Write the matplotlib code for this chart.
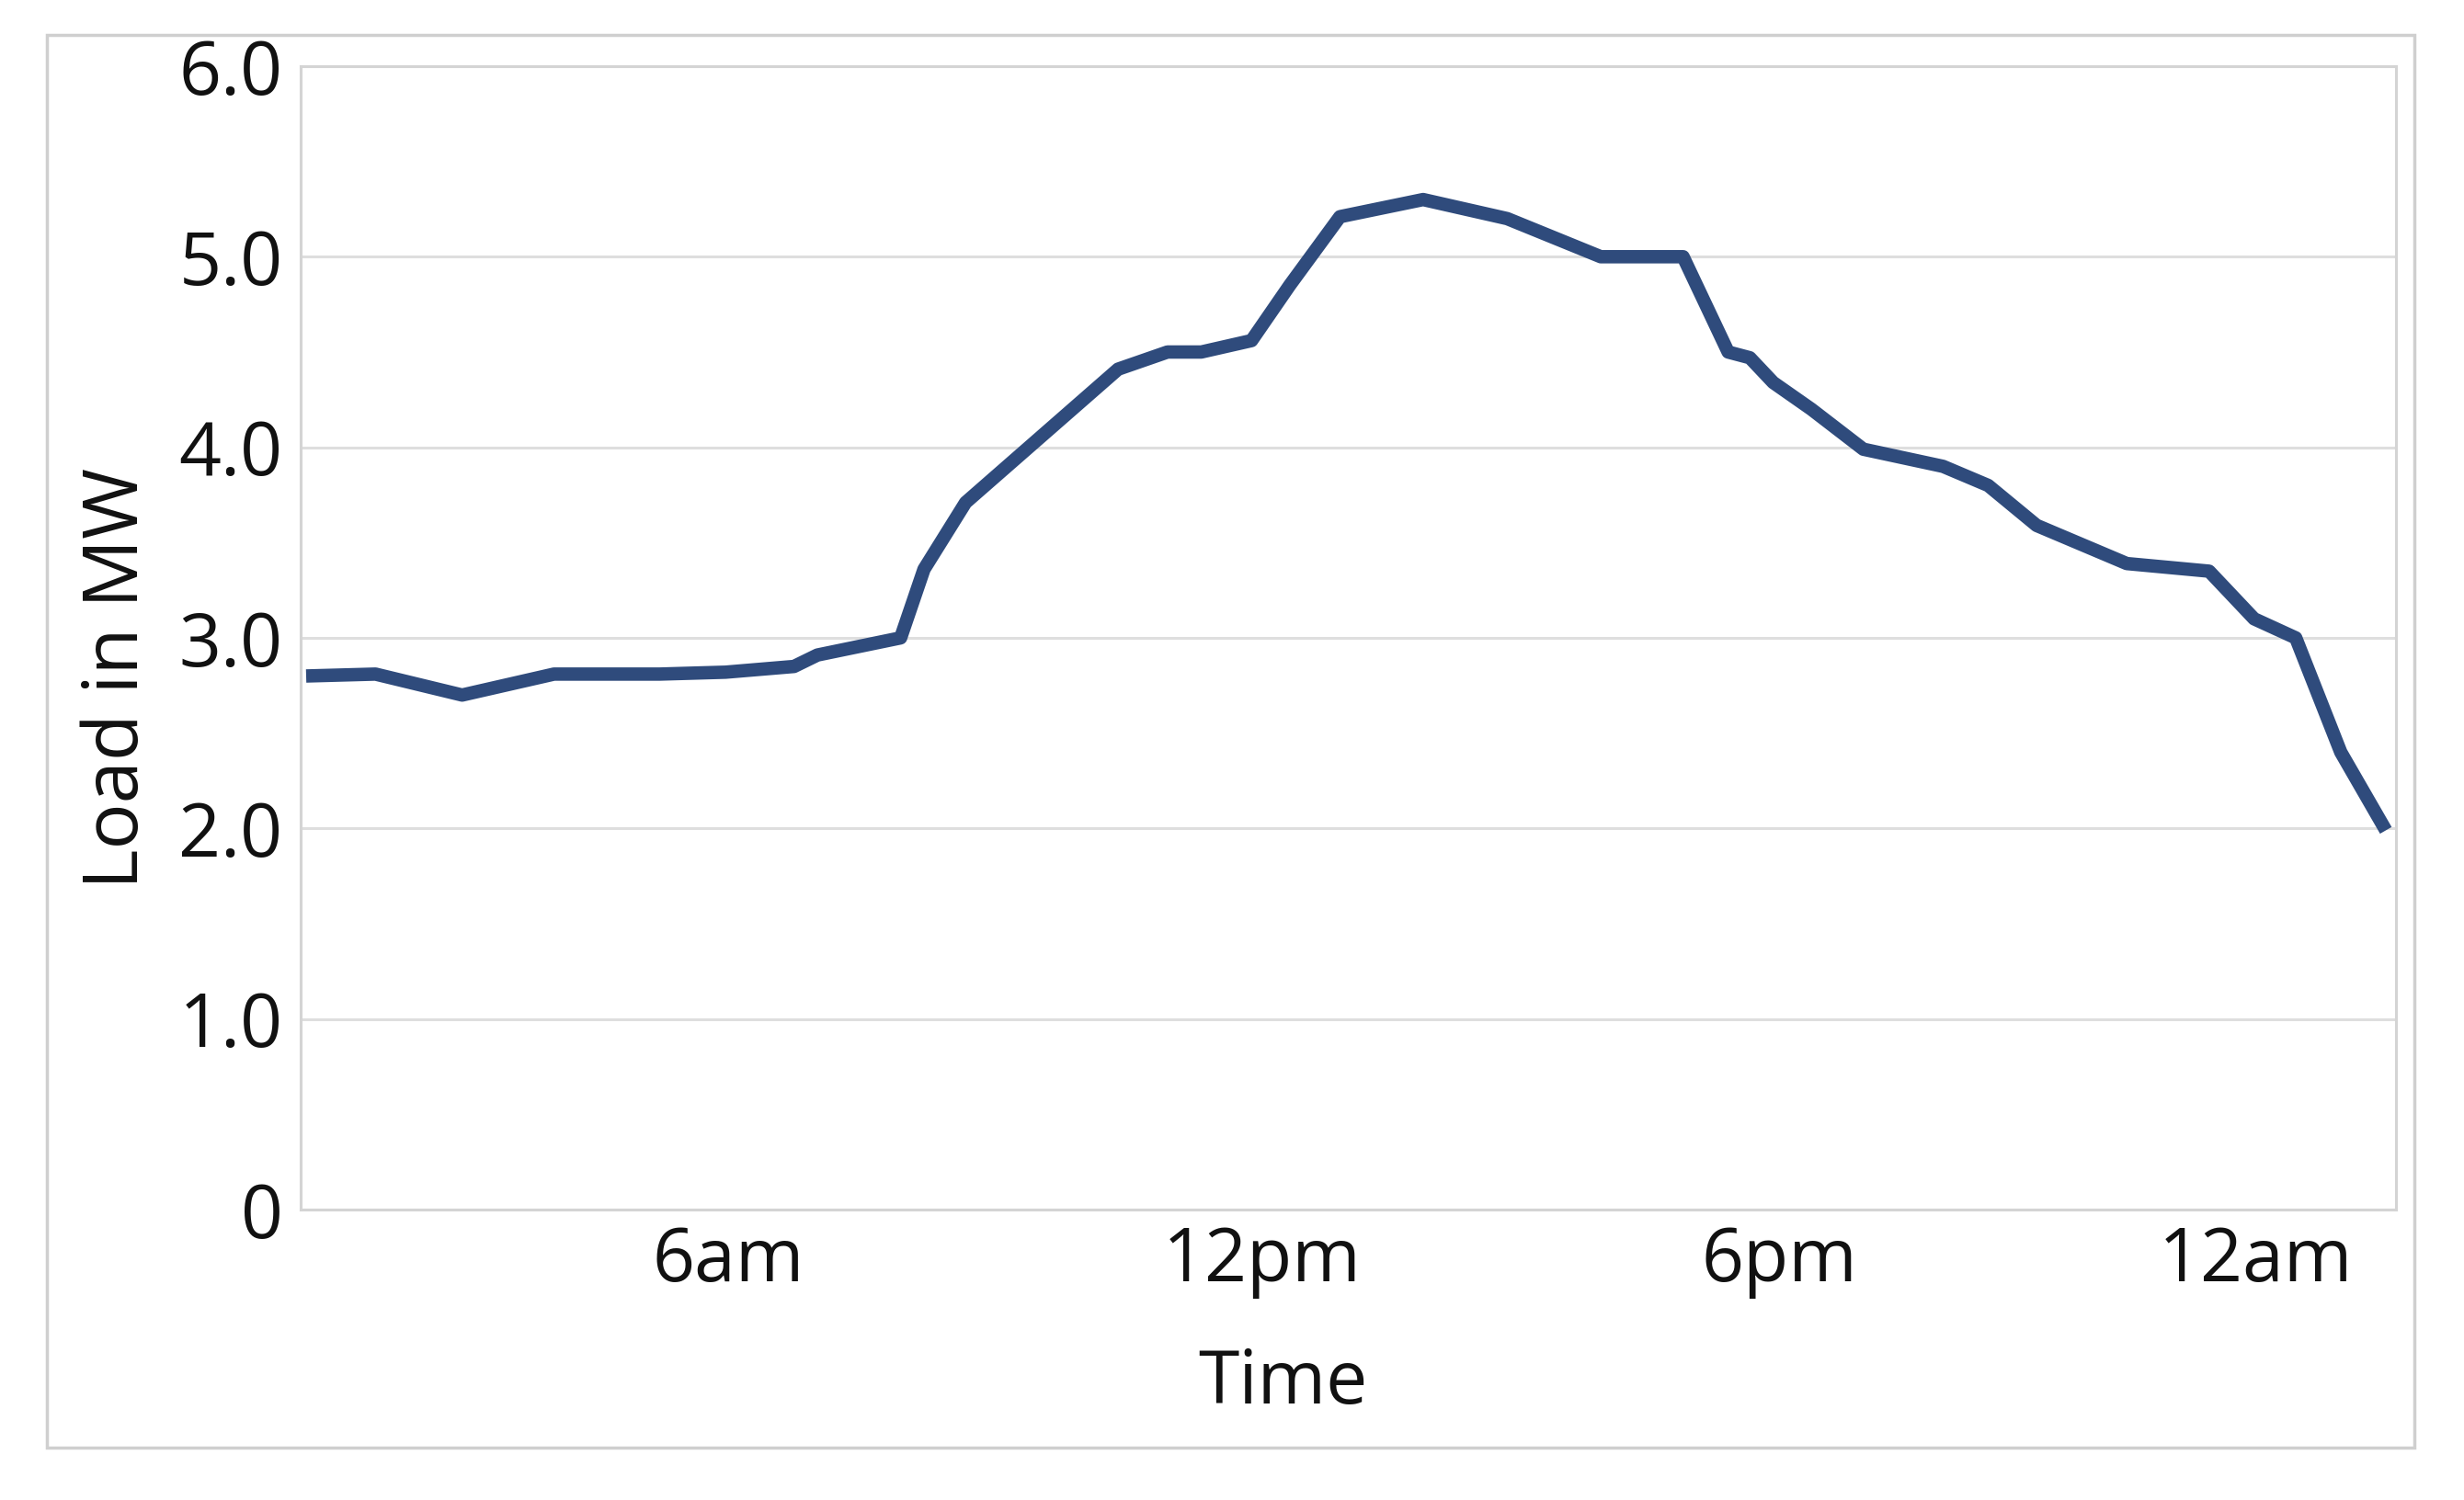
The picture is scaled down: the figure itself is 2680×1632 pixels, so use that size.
import matplotlib.pyplot as plt
from matplotlib.patches import Rectangle

# hours since 1am
hours = [0.00, 0.80, 1.80, 2.86, 4.08, 4.84, 5.63, 5.90, 6.86, 7.13, 7.61,
         9.37, 9.94, 10.33, 10.91, 11.35, 11.93, 12.89, 13.86, 14.94, 15.89,
         16.41, 16.66, 16.93, 17.37, 17.97, 18.89, 19.41, 19.97, 21.01, 21.96,
         22.48, 22.96, 23.48, 24.00]
load = [2.80, 2.81, 2.70, 2.81, 2.81, 2.82, 2.85, 2.91, 3.00, 3.36, 3.71,
        4.41, 4.50, 4.50, 4.56, 4.85, 5.21, 5.30, 5.20, 5.00, 5.00,
        4.50, 4.47, 4.34, 4.20, 3.99, 3.90, 3.80, 3.59, 3.39, 3.35,
        3.10, 3.00, 2.40, 1.99]

tick_pos = [4.87, 11.03, 17.0, 22.5]
tick_lab = ['6am', '12pm', '6pm', '12am']
yticks = [0, 1, 2, 3, 4, 5, 6]
ylabs = ['0', '1.0', '2.0', '3.0', '4.0', '5.0', '6.0']

plt.rcParams['font.family'] = ['Open Sans', 'DejaVu Sans']

fig = plt.figure(figsize=(26.8, 16.32), dpi=100)
fig.patch.set_facecolor('white')

# outer chart frame
fig.patches.append(Rectangle((0.019, 0.035), 0.961, 0.942, transform=fig.transFigure,
                             fill=False, edgecolor='#CFCFCF', linewidth=2.5))

ax = fig.add_axes([0.122, 0.1936, 0.8504, 0.7623])
ax.plot(hours, load, color='#2F4B7C', linewidth=10.5, solid_joinstyle='round', solid_capstyle='butt', zorder=3)

ax.set_xlim(-0.064, 24.117)
ax.set_ylim(0, 6)
ax.set_yticks(yticks)
ax.set_yticklabels(ylabs)
ax.set_xticks(tick_pos)
ax.set_xticklabels(tick_lab)
ax.tick_params(axis='both', length=0, labelsize=58, colors='#111111')
ax.tick_params(axis='y', pad=14)
ax.tick_params(axis='x', pad=12)

ax.grid(axis='y', color='#DEDEDE', linewidth=2.2)
ax.set_axisbelow(True)
for s in ax.spines.values():
    s.set_color('#D4D4D4')
    s.set_linewidth(2.2)

ax.set_xlabel('Time', fontsize=58, color='#111111')
ax.xaxis.set_label_coords(0.469, -0.12)
ax.set_ylabel('Load in MW', fontsize=60, color='#111111')
ax.yaxis.set_label_coords(-0.069, 0.465)

fig.savefig('out.png', dpi=100, facecolor='white')
